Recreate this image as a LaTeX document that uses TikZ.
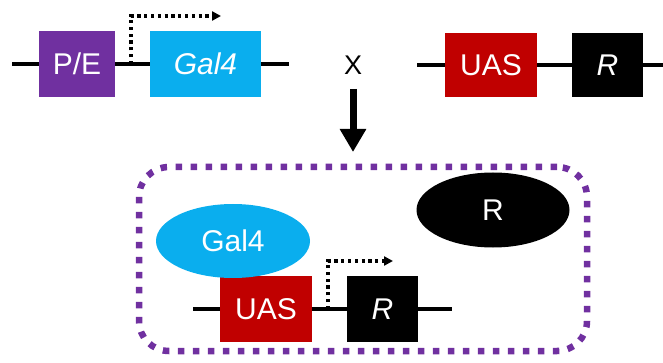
\documentclass[tikz,border=0pt]{standalone}
\usepackage{fontspec}
\setmainfont{Liberation Sans}
\usetikzlibrary{arrows.meta,shapes.geometric}
\definecolor{pepurple}{HTML}{7030A0}
\definecolor{galblue}{HTML}{0AAEEE}
\definecolor{uasred}{HTML}{C00000}
\tikzset{
  gene/.style={draw=none, inner sep=0pt, text=white, font=\fontsize{30}{36}\selectfont},
  dna/.style={line width=3.4pt, black},
  tss/.style={line width=3.2pt, dash pattern=on 3.2pt off 3.6pt, -{Triangle[length=9pt,width=9pt]}},
  prot/.style={ellipse, inner sep=0pt, text=white, font=\fontsize{30}{36}\selectfont},
}
\begin{document}
\begin{tikzpicture}[x=1pt,y=-1pt]
\useasboundingbox (0,0) rectangle (663,363);
% top left construct
\coordinate (l1) at (12,64);
\coordinate (l2) at (289,64);
\node[gene, fill=pepurple, minimum width=76pt, minimum height=66pt] (pe) at (77,64) {P/E};
\node[gene, fill=galblue, minimum width=111pt, minimum height=66pt] (gal) at (205.5,64) {\itshape Gal4};
\draw[dna] (l1) -- (pe.west);
\draw[dna] (pe.east) -- (gal.west);
\draw[dna] (gal.east) -- (l2);
\coordinate (t1s) at (131,64);
\coordinate (t1e) at (221,16);
\draw[tss] (t1s) |- (t1e);
% top right construct
\coordinate (r1) at (417,65);
\coordinate (r2) at (663,65);
\node[gene, fill=uasred, minimum width=92pt, minimum height=64pt] (uas) at (491,65) {UAS};
\node[gene, fill=black, minimum width=71pt, minimum height=64pt] (rr) at (607.5,65) {\itshape R};
\draw[dna] (r1) -- (uas.west);
\draw[dna] (uas.east) -- (rr.west);
\draw[dna] (rr.east) -- (r2);
% cross
\node[font=\fontsize{27}{32}\selectfont, inner sep=0pt] (x) at (353,65) {X};
\coordinate (a1) at (353,89);
\coordinate (a2) at (353,152);
\draw[line width=7pt, -{Triangle[length=23pt,width=25pt]}] (a1) -- (a2);
% progeny box
\node[draw=pepurple, line width=6.5pt, dash pattern=on 6.5pt off 8.5pt, rounded corners=30pt,
      minimum width=448pt, minimum height=184pt, inner sep=0pt] (cell) at (363,259) {};
\coordinate (b1) at (193,309);
\coordinate (b2) at (452,309);
\node[gene, fill=uasred, minimum width=92pt, minimum height=66pt] (uas2) at (266,309) {UAS};
\node[gene, fill=black, minimum width=71pt, minimum height=66pt] (r2b) at (382.5,309) {\itshape R};
\draw[dna] (b1) -- (uas2.west);
\draw[dna] (uas2.east) -- (r2b.west);
\draw[dna] (r2b.east) -- (b2);
\coordinate (t2s) at (328,309);
\coordinate (t2e) at (393,261);
\draw[tss] (t2s) |- (t2e);
\node[prot, fill=galblue, minimum width=154pt, minimum height=74pt] (galp) at (233,241) {Gal4};
\node[prot, fill=black, minimum width=153pt, minimum height=75pt] (rp) at (493,210) {R};
\end{tikzpicture}
\end{document}
